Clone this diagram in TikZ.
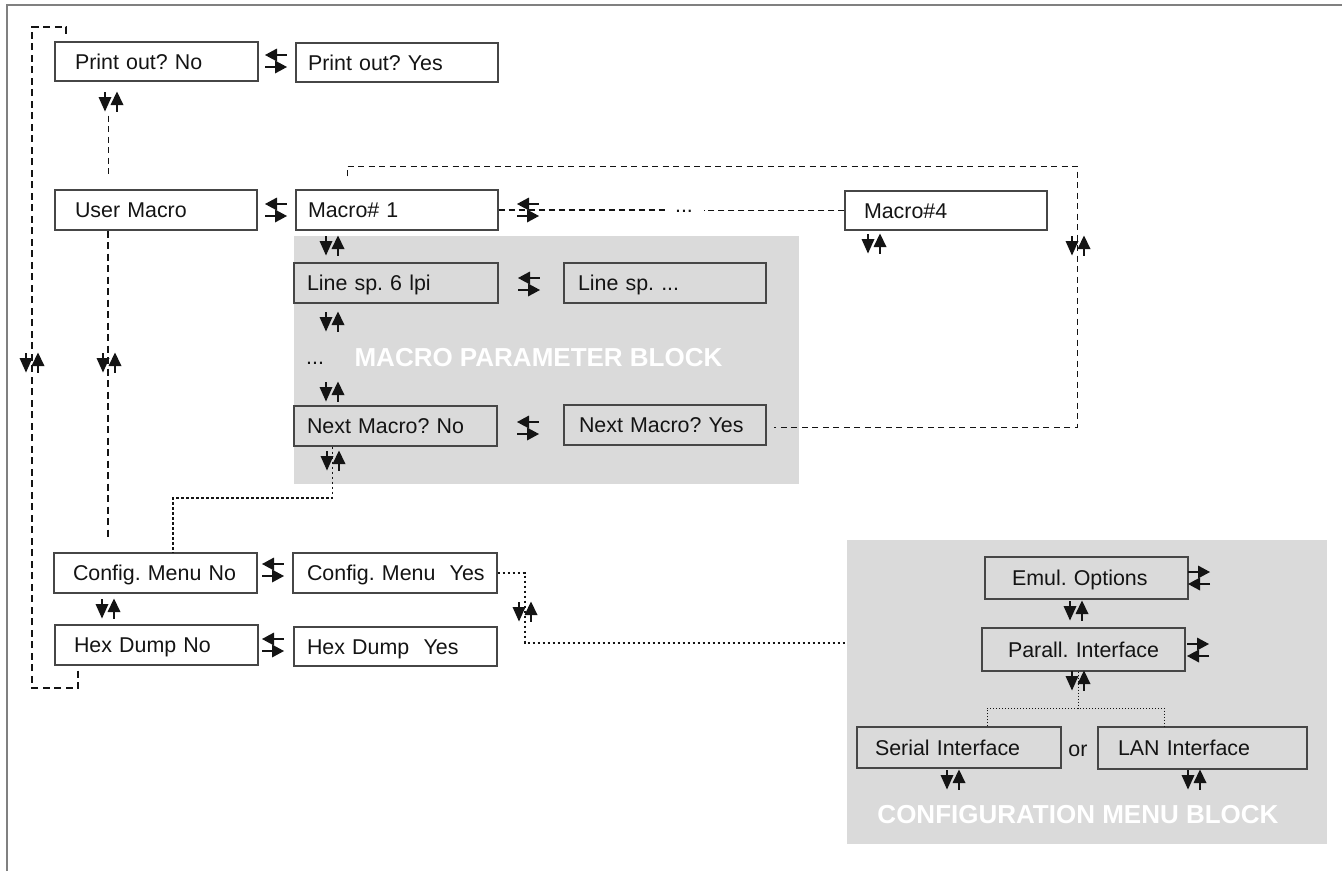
\documentclass[tikz,border=0pt]{standalone}
\usepackage{fontspec}
\setmainfont{Liberation Sans}
\usetikzlibrary{calc}
\frenchspacing
\definecolor{bord}{RGB}{70,70,70}
\definecolor{blk}{RGB}{218,218,218}
\definecolor{frm}{RGB}{128,128,128}
\definecolor{ink}{RGB}{20,20,20}
\tikzset{
  bx/.style={draw=bord, line width=1.3pt, fill=white, rectangle, inner ysep=0pt,
    text height=15.3pt, text depth=0pt, align=left, text=ink,
    font=\frenchspacing\fontsize{21.4}{25}\selectfont},
  gbx/.style={bx, fill=blk},
  txt/.style={inner sep=0pt, text=ink, font=\fontsize{21.4}{25}\selectfont},
  blocktitle/.style={inner sep=0pt, text=white, font=\bfseries\fontsize{26}{30}\selectfont},
  gl/.style={draw=ink, line width=1.3pt},
  thickdash/.style={draw=ink, line width=2pt, dash pattern=on 7pt off 4.5pt},
  thindash/.style={draw=ink, line width=1pt, dash pattern=on 6pt off 4.5pt},
  middash/.style={draw=ink, line width=1.4pt, dash pattern=on 6pt off 4pt},
  dotline/.style={draw=ink, line width=1.2pt, dash pattern=on 2.5pt off 2.5pt},
  finedot/.style={draw=ink, line width=1pt, dash pattern=on 1pt off 2pt},
  pics/vud/.style={code={
    \draw[gl] (-6,-10) -- (-6,-4);
    \fill[ink] (-12.5,-5) -- (0.5,-5) -- (-6,9.5) -- cycle;
    \fill[ink] (-0.5,3) -- (12.5,3) -- (6,-10.5) -- cycle;
    \draw[gl] (6,2) -- (6,10);
  }},
  pics/hlr/.style={code={
    \fill[ink] (-11,-6) -- (1,-12.5) -- (1,0.5) -- cycle;
    \draw[gl] (0,-6) -- (11,-6);
    \draw[gl] (-11,6) -- (0,6);
    \fill[ink] (11,6) -- (-1,-0.5) -- (-1,12.5) -- cycle;
  }},
  pics/hrl/.style={code={
    \fill[ink] (11,-6) -- (-1,-12.5) -- (-1,0.5) -- cycle;
    \draw[gl] (0,-6) -- (-11,-6);
    \draw[gl] (11,6) -- (0,6);
    \fill[ink] (-11,6) -- (1,-0.5) -- (1,12.5) -- cycle;
  }},
}
\begin{document}
\begin{tikzpicture}[x=1pt,y=-1pt]
\useasboundingbox (0,0) rectangle (1342,871);
% frame
\draw[frm, line width=2pt] (7,871) -- (7,5) -- (1342,5);

% grey blocks
\node[fill=blk, inner sep=0pt, minimum width=505pt, minimum height=248pt] (mblk) at (546.5,360) {};
\node[fill=blk, inner sep=0pt, minimum width=480pt, minimum height=304pt] (cblk) at (1087,692) {};

% boxes
\node[bx, minimum width=203pt, minimum height=39pt, inner xsep=20pt, text width=163pt] (pno) at (156.5,61.5) {\mbox{Print out? No}};
\node[bx, minimum width=202pt, minimum height=39pt, inner xsep=12pt, text width=178pt] (poy) at (397,62.5) {\mbox{Print out? Yes}};
\node[bx, minimum width=202pt, minimum height=40pt, inner xsep=20pt, text width=162pt] (um) at (156,210) {\mbox{User Macro}};
\node[bx, minimum width=202pt, minimum height=40pt, inner xsep=12pt, text width=178pt] (m1) at (397,210) {\mbox{Macro\# 1}};
\node[bx, minimum width=202pt, minimum height=39pt, inner xsep=19pt, text width=164pt] (m4) at (946,210.5) {\mbox{Macro\#4}};
\node[gbx, minimum width=204pt, minimum height=40pt, inner xsep=13pt, text width=178pt] (ls6) at (396,283) {\mbox{Line sp. 6 lpi}};
\node[gbx, minimum width=202pt, minimum height=40pt, inner xsep=14pt, text width=174pt] (lsd) at (665,283) {\mbox{Line sp. ...}};
\node[gbx, minimum width=203pt, minimum height=40pt, inner xsep=13pt, text width=177pt] (nmn) at (395.5,426) {\mbox{Next Macro? No}};
\node[gbx, minimum width=202pt, minimum height=40pt, inner xsep=15pt, text width=172pt] (nmy) at (665,425) {\mbox{Next Macro? Yes}};
\node[bx, minimum width=203pt, minimum height=40pt, inner xsep=19pt, text width=165pt] (cmn) at (155.5,573) {\mbox{Config. Menu No}};
\node[bx, minimum width=204pt, minimum height=40pt, inner xsep=14pt, text width=176pt] (cmy) at (395,573) {\mbox{Config. Menu\ \ Yes}};
\node[bx, minimum width=203pt, minimum height=40pt, inner xsep=19pt, text width=165pt] (hdn) at (156.5,645) {\mbox{Hex Dump No}};
\node[bx, minimum width=203pt, minimum height=39pt, inner xsep=13pt, text width=177pt] (hdy) at (395.5,646.5) {\mbox{Hex Dump\ \ Yes}};
\node[gbx, minimum width=203pt, minimum height=42pt, inner xsep=27pt, text width=149pt] (eo) at (1086.5,578) {\mbox{Emul. Options}};
\node[gbx, minimum width=203pt, minimum height=43pt, inner xsep=26pt, text width=151pt] (pi) at (1083.5,649.5) {\mbox{Parall. Interface}};
\node[gbx, minimum width=204pt, minimum height=41pt, inner xsep=18pt, text width=168pt] (si) at (959,747.5) {\mbox{Serial Interface}};
\node[gbx, minimum width=209pt, minimum height=42pt, inner xsep=20pt, text width=169pt] (lan) at (1202.5,748) {\mbox{LAN Interface}};

% free texts
\node[blocktitle, anchor=base] (mcap) at (538.5,366) {MACRO PARAMETER BLOCK};
\node[blocktitle, anchor=base] (ccap) at (1078,823) {CONFIGURATION MENU BLOCK};
\node[txt, anchor=base west] (mdots) at (306,364) {...};
\node[txt, anchor=base] (dots) at (684,212) {...};
\node[txt, anchor=base] (or) at (1078,756) {or};

% junction coordinates
\coordinate (lpB) at (32,688);
\coordinate (lpT) at (32,27);
\coordinate (tr) at (1077,166);
\coordinate (dj) at (173,498);
\coordinate (ck) at (525,643);
\coordinate (tj) at (1078,708);

% connectors
\draw[thickdash] ($(hdn.south west)+(24,5)$) |- (lpB) -- (lpT) -| ($(pno.north west)+(12,-3)$);
\draw[thindash] ($(pno.south west)+(54,34)$) -- ($(um.north west)+(54,-13)$);
\draw[thickdash] ($(um.south west)+(54,0)$) -- ($(cmn.north west)+(55,-14)$);
\draw[thindash] ($(m1.north west)+(52,-13)$) |- (tr) -- ($(tr |- nmy.east)+(0,2)$) -- ($(nmy.east)+(7,2)$);
\draw[middash, shorten >=8pt] (m1.east) -- (m1.east -| dots.west);
\draw[middash, shorten >=11pt] (m4.west) -- (m4.west -| dots.east);
\draw[dotline] ($(nmn.south west)+(39,0)$) |- (dj) -- (dj |- cmn.north);
\draw[dotline] (cmy.east) -| (ck) -- (ck -| cblk.west);
\draw[finedot] ($(pi.south)+(-5.5,0)$) -- (tj);
\draw[finedot] ($(si.north west)+(131,0)$) |- (tj) -| ($(lan.north west)+(67,0)$);

% arrow glyphs
\pic at (276,61) {hlr};
\pic at (276,210) {hlr};
\pic at (528,210) {hlr};
\pic at (529,284) {hlr};
\pic at (528,428) {hlr};
\pic at (273,570) {hlr};
\pic at (273,645) {hlr};
\pic at (1199,578) {hrl};
\pic at (1198,650) {hrl};
\pic at (111,102) {vud};
\pic at (32,363) {vud};
\pic at (109,363) {vud};
\pic at (332,246) {vud};
\pic at (332,322) {vud};
\pic at (332,392) {vud};
\pic at (333,461) {vud};
\pic at (874,244) {vud};
\pic at (1078,246) {vud};
\pic at (108,609) {vud};
\pic at (525,612) {vud};
\pic at (1076,611) {vud};
\pic at (1078,681) {vud};
\pic at (953,780) {vud};
\pic at (1194,780) {vud};
\end{tikzpicture}
\end{document}
